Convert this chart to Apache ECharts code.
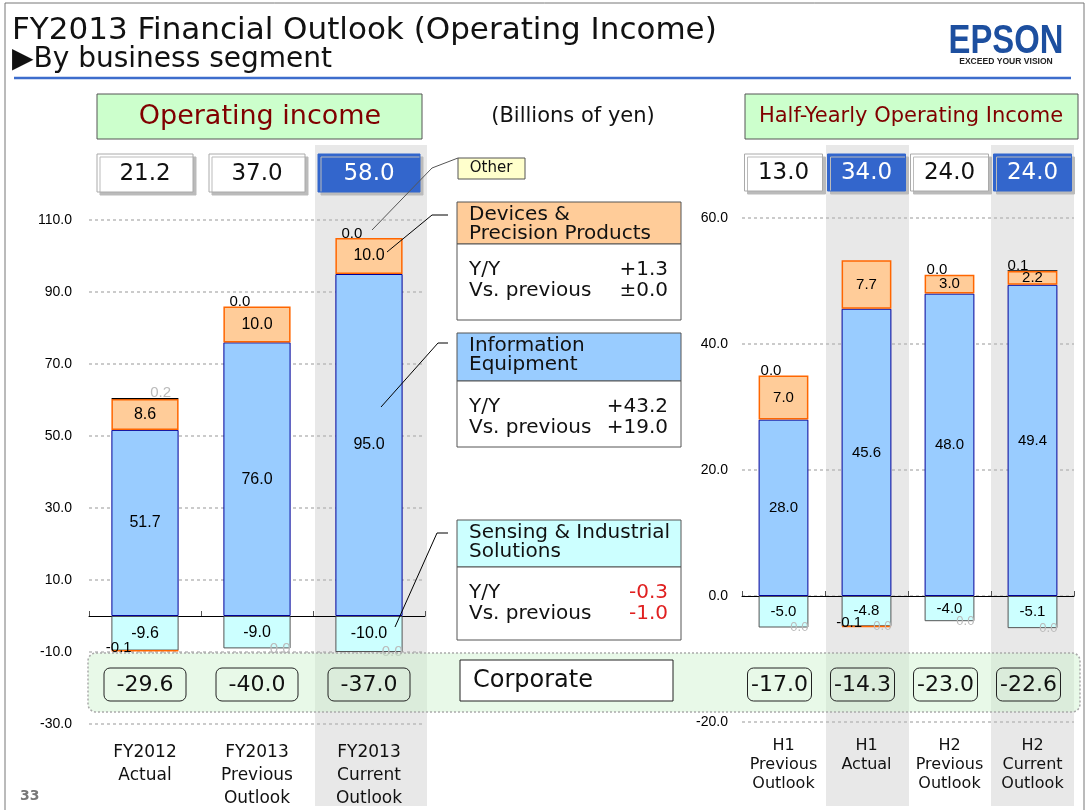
<!DOCTYPE html>
<html>
<head>
<meta charset="utf-8">
<script src="https://cdn.jsdelivr.net/npm/echarts@6/dist/echarts.min.js"></script>
<style>
html, body { margin: 0; padding: 0; background: #fff; }
#main { width: 1088px; height: 810px; }
</style>
</head>
<body>
<div id="main"></div>
<script>
// full-year chart (left)
var leftCats = ['FY2012\nActual', 'FY2013\nPrevious\nOutlook', 'FY2013\nCurrent\nOutlook'];
var leftInfo = [51.7, 76.0, 95.0];
var leftDevices = [8.6, 10.0, 10.0];
var leftOther = [0.2, 0.0, 0.0];
var leftSensing = [-9.6, -9.0, -10.0];
var leftDevNeg = [-0.1, null, null];
var leftOtherNeg = [null, 0.0, 0.0];
var leftTotals = [21.2, 37.0, 58.0];
var leftCorporate = [-29.6, -40.0, -37.0];
var leftRange = [-30, 110];

// half-year chart (right)
var rightCats = ['H1\nPrevious\nOutlook', 'H1\nActual', 'H2\nPrevious\nOutlook', 'H2\nCurrent\nOutlook'];
var rightInfo = [28.0, 45.6, 48.0, 49.4];
var rightDevices = [7.0, 7.7, 3.0, 2.2];
var rightOther = [0.0, null, 0.0, 0.1];
var rightSensing = [-5.0, -4.8, -4.0, -5.1];
var rightDevNeg = [null, -0.1, null, null];
var rightOtherNeg = [0.0, 0.0, 0.0, 0.0];
var rightTotals = [13.0, 34.0, 24.0, 24.0];
var rightCorporate = [-17.0, -14.3, -23.0, -22.6];
var rightRange = [-20, 60];
var tickStep = 20;

// segment notes
var devicesNote = ['+1.3', '\u00b10.0'];
var infoNote = ['+43.2', '+19.0'];
var sensingNote = ['-0.3', '-1.0'];

var SANS = 'DejaVu Sans';
var ARIAL = 'Liberation Sans';
var GRAY_LBL = '#bbbbbb';

// small label tweaks (style only)
var leftOtherLabelPos = [[39, -13], [6, -12], [6, -12]];
var leftOtherLabelColor = [GRAY_LBL, '#000', '#000'];
var leftOtherBorder = [1, 0, 0];
var rightOtherLabelPos = [[2, -12], [2, -12], [2, -12], [0, -12]];

function fmt(v) { return Number(v).toFixed(1); }

function mainLabel(size) {
    return {
        show: true, position: 'inside', color: '#000', fontSize: size, fontFamily: ARIAL,
        formatter: function (p) { return p.value == null ? '' : fmt(p.value); }
    };
}

function buildSeries(axisIdx, stackName, info, dev, oth, sens, devNeg, othNeg, othPos, othColor, othBorder, fs, gs) {
    return [
        {
            type: 'bar', name: 'Information Equipment', stack: stackName, barWidth: '60%',
            xAxisIndex: axisIdx, yAxisIndex: axisIdx / 2,
            itemStyle: {color: '#99CCFF', borderColor: '#000099', borderWidth: 1},
            label: mainLabel(fs), data: info
        },
        {
            type: 'bar', name: 'Devices & Precision Products', stack: stackName,
            xAxisIndex: axisIdx, yAxisIndex: axisIdx / 2,
            itemStyle: {color: '#FFCC99', borderColor: '#FF6600', borderWidth: 1.5},
            label: mainLabel(fs), data: dev
        },
        {
            type: 'bar', name: 'Other', stack: stackName,
            xAxisIndex: axisIdx, yAxisIndex: axisIdx / 2,
            itemStyle: {color: '#000', borderColor: '#000', borderWidth: 0},
            label: {show: true, fontSize: 15, fontFamily: ARIAL, formatter: function (p) { return fmt(p.value); }},
            data: oth.map(function (v, i) {
                return {
                    value: v,
                    itemStyle: {borderWidth: othBorder ? othBorder[i] : 0},
                    label: {position: othPos[i], color: othColor ? othColor[i] : '#000'}
                };
            })
        },
        {
            type: 'bar', name: 'Sensing & Industrial Solutions', stack: stackName,
            xAxisIndex: axisIdx, yAxisIndex: axisIdx / 2,
            itemStyle: {color: '#CCFFFF', borderColor: '#555', borderWidth: 1},
            label: mainLabel(fs), data: sens
        },
        {
            type: 'bar', name: 'Devices (neg)', stack: stackName,
            xAxisIndex: axisIdx, yAxisIndex: axisIdx / 2,
            itemStyle: {color: '#FF6600', borderColor: '#FF6600', borderWidth: 1.5},
            label: {show: true, position: [-5, -10], color: '#000', fontSize: 15, fontFamily: ARIAL,
                formatter: function (p) { return fmt(p.value); }},
            data: devNeg
        },
        {
            type: 'bar', name: 'Other (neg)', stack: stackName,
            xAxisIndex: axisIdx, yAxisIndex: axisIdx / 2,
            itemStyle: {color: '#000', borderWidth: 0},
            label: {show: true, position: 'insideRight', distance: 0, color: GRAY_LBL, fontSize: gs, fontFamily: ARIAL,
                formatter: function (p) { return fmt(p.value); }},
            data: othNeg
        }
    ];
}

function catAxis(grid, cats, withLine, fs, lh, margin) {
    return {
        type: 'category', gridIndex: grid, data: cats, position: 'bottom',
        axisLine: {show: withLine, onZero: withLine, lineStyle: {color: '#000', width: 1}},
        axisTick: {show: withLine, inside: true, length: 5, lineStyle: {color: '#555'}},
        axisLabel: {show: !withLine, interval: 0, fontSize: fs, lineHeight: lh, margin: margin,
            color: '#111', fontFamily: SANS},
        splitLine: {show: false}
    };
}

function valAxis(grid, range, margin) {
    return {
        type: 'value', gridIndex: grid, min: range[0], max: range[1], interval: tickStep,
        axisLine: {show: false}, axisTick: {show: false},
        axisLabel: {fontSize: 14, color: '#000', fontFamily: ARIAL, margin: margin,
            formatter: function (v) { return fmt(v); }},
        splitLine: {lineStyle: {type: [3, 3], color: '#bbb', width: 1.5}}
    };
}

var chart = echarts.init(document.getElementById('main'));

chart.setOption({
    animation: false,
    grid: [
        {left: 89, right: 663, top: 220, bottom: 86, outerBoundsMode: 'none', containLabel: false},
        {left: 742, right: 14, top: 218, bottom: 88, outerBoundsMode: 'none', containLabel: false}
    ],
    xAxis: [
        catAxis(0, leftCats, true),
        catAxis(0, leftCats, false, 17, 23, 17),
        catAxis(1, rightCats, true),
        catAxis(1, rightCats, false, 16, 19, 14)
    ],
    yAxis: [valAxis(0, leftRange, 17), valAxis(1, rightRange, 14)],
    series: buildSeries(0, 'L', leftInfo, leftDevices, leftOther, leftSensing, leftDevNeg, leftOtherNeg,
        leftOtherLabelPos, leftOtherLabelColor, leftOtherBorder, 16, 15)
        .concat(buildSeries(2, 'R', rightInfo, rightDevices, rightOther, rightSensing, rightDevNeg, rightOtherNeg,
            rightOtherLabelPos, null, null, 15, 13))
});

// ---- decorations positioned from the axes ----
function px(axisIdx, i) { return chart.convertToPixel({xAxisIndex: axisIdx}, i); }
var leftBand = px(0, 1) - px(0, 0);
var rightBand = px(2, 1) - px(2, 0);

function rect(x, y, w, h, fill, stroke, extra) {
    var el = {type: 'rect', shape: {x: x, y: y, width: w, height: h}, style: {fill: fill, stroke: stroke, lineWidth: 1}, z: 10};
    if (extra) { for (var k in extra) { el[k] = extra[k]; } }
    return el;
}
function txt(x, y, s, size, color, align, font, weight) {
    return {type: 'text', x: x, y: y, z: 12, style: {text: s, fill: color || '#000', fontSize: size,
        fontFamily: font || SANS, fontWeight: weight || 'normal', align: align || 'left', verticalAlign: 'middle'}};
}
function line(points, color) {
    return {type: 'polyline', z: 11, shape: {points: points}, style: {stroke: color || '#000', lineWidth: 1, fill: null}};
}

var g = [];
// slide frame and header
g.push(rect(5, 3, 1079, 812, null, '#777', {z: 1}));
g.push(txt(12, 31, 'FY2013 Financial Outlook (Operating Income)', 31, '#111'));
g.push(txt(12, 60, '\u25B6By business segment', 28, '#111'));
g.push(line([[14, 78], [1071, 78]], '#3D6DCC'));
g[g.length - 1].style.lineWidth = 2.5;
var logo = txt(1006, 42, 'EPSON', 40, '#1D4F9F', 'center', ARIAL, 'bold');
logo.scaleX = 0.82;
g.push(logo);
var tag = txt(1006, 62, 'EXCEED YOUR VISION', 9, '#222', 'center', ARIAL, 'bold');
tag.scaleX = 0.95;
g.push(tag);

// gray highlight columns
g.push(rect(px(0, 2) - leftBand / 2 + 2, 145, leftBand, 661, '#E8E8E8', null, {z: -5}));
g.push(rect(px(2, 1) - rightBand / 2 + 1, 145, rightBand, 661, '#E8E8E8', null, {z: -5}));
g.push(rect(px(2, 3) - rightBand / 2, 145, rightBand, 661, '#E8E8E8', null, {z: -5}));

// section headers
g.push(rect(97, 94, 325, 45, '#CCFFCC', '#555'));
g.push(txt(260, 117, 'Operating income', 27, '#800000', 'center'));
g.push(txt(573, 117, '(Billions of yen)', 21, '#111', 'center'));
g.push(rect(745, 94, 333, 45, '#CCFFCC', '#555'));
g.push(txt(911, 117, 'Half-Yearly Operating Income', 21, '#800000', 'center'));

// total boxes
function totalBox(x, w, h, v, hi) {
    g.push(rect(x - w / 2, 154, w, h, hi ? '#3366CC' : '#fff', hi ? '#3366CC' : '#aaa',
        {style: {fill: hi ? '#3366CC' : '#fff', stroke: hi ? '#3366CC' : '#aaa', lineWidth: 1,
            shadowColor: '#bbb', shadowOffsetX: 3, shadowOffsetY: 3}}));
    g.push(txt(x, 154 + h / 2 + 1, fmt(v), 23, hi ? '#fff' : '#111', 'center'));
}
leftTotals.forEach(function (v, i) { totalBox(px(0, i), i === 2 ? 102 : 96, 38, v, i === 2); });
rightTotals.forEach(function (v, i) { totalBox(px(2, i), 78, 37, v, i % 2 === 1); });

// corporate band
g.push({type: 'rect', z: 8, shape: {x: 88, y: 653, width: 992, height: 59, r: 8},
    style: {fill: 'rgba(200,240,200,0.42)', stroke: '#aaa', lineWidth: 1.5, lineDash: [2, 2]}});
function corpBox(x, w, v) {
    g.push({type: 'rect', z: 10, shape: {x: x - w / 2, y: 668, width: w, height: 33, r: 6},
        style: {fill: 'rgba(255,255,255,0)', stroke: '#222', lineWidth: 1}});
    g.push(txt(x, 685, fmt(v), 22, '#111', 'center'));
}
leftCorporate.forEach(function (v, i) { corpBox(px(0, i), 82, v); });
rightCorporate.forEach(function (v, i) { corpBox(px(2, i) - 4, 64, v); });
g.push(rect(460, 660, 213, 41, '#fff', '#222'));
g.push(txt(473, 681, 'Corporate', 24, '#111'));

// segment call-outs
g.push(rect(458, 158, 67, 21, '#FFFFCC', '#555'));
g.push(txt(491, 168, 'Other', 15, '#111', 'center'));
g.push(line([[458, 158], [432, 168], [372, 230]], '#555'));

function callout(y, h1, h2, fill, t1, t2, note, noteColor) {
    g.push(rect(457, y, 224, h1, fill, '#555'));
    g.push(txt(469, y + 13, t1, 20, '#111'));
    g.push(txt(469, y + 32, t2, 20, '#111'));
    g.push(rect(457, y + h1, 224, h2, '#fff', '#555'));
    g.push(txt(469, y + h1 + 26, 'Y/Y', 20, '#111'));
    g.push(txt(469, y + h1 + 47, 'Vs. previous', 20, '#111'));
    g.push(txt(668, y + h1 + 26, note[0], 20, noteColor, 'right'));
    g.push(txt(668, y + h1 + 47, note[1], 20, noteColor, 'right'));
}
callout(202, 42, 76, '#FFCC99', 'Devices &', 'Precision Products', devicesNote, '#111');
g.push(line([[448, 215], [432, 215], [387, 252]], '#000'));
callout(333, 48, 66, '#99CCFF', 'Information', 'Equipment', infoNote, '#111');
g.push(line([[448, 343], [438, 343], [381, 407]], '#000'));
callout(520, 47, 73, '#CCFFFF', 'Sensing & Industrial', 'Solutions', sensingNote, '#E02020');
g.push(line([[448, 533], [437, 533], [395, 627]], '#000'));

g.push(txt(20, 796, '33', 14, '#777', 'left', SANS, 'bold'));

chart.setOption({graphic: {elements: g}});
</script>
</body>
</html>
